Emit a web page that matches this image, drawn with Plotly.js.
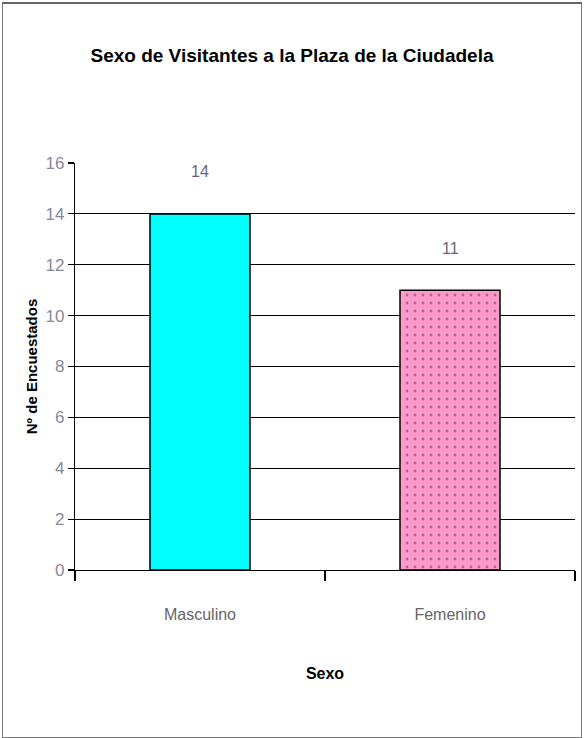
<!DOCTYPE html>
<html><head><meta charset="utf-8">
<script src="https://cdn.plot.ly/plotly-3.0.1.min.js"></script>
<style>
html,body{margin:0;padding:0;background:#fff;}
#frame{position:absolute;left:2px;top:2px;width:578px;height:733px;border:1px solid #777;border-top:2px solid #666;pointer-events:none;}
#chart{width:584px;height:738px;}
</style></head>
<body>
<div id="chart"></div>
<div id="frame"></div>
<script>
const categories = ["Masculino", "Femenino"];
const values = [14, 11];
const barColors = ["#00FFFF", "#FF99CC"];
const yTicks = [0, 2, 4, 6, 8, 10, 12, 14, 16];

const font = "Liberation Sans Narrow, Arial Narrow, Liberation Sans, Arial, sans-serif";

const trace = {
  type: "bar",
  x: categories,
  y: values,
  marker: {
    color: barColors,
    line: {color: "#000", width: 1.5},
    pattern: {shape: ["", "."], fillmode: "overlay", fgcolor: "#e7a0b4", size: 8, solidity: 0.1}
  },
  width: 0.4,
  hoverinfo: "x+y"
};

const annotations = categories.map((c, i) => ({
  x: c, y: values[i], xref: "x", yref: "y",
  text: String(values[i]), showarrow: false, yshift: 42,
  font: {family: font, size: 16, color: "#667"}
}));

const layout = {
  width: 584, height: 738,
  margin: {l: 75, r: 9, t: 163, b: 168},
  paper_bgcolor: "#fff", plot_bgcolor: "#fff",
  showlegend: false,
  title: {text: "<b>Sexo de Visitantes a la Plaza de la Ciudadela</b>",
    font: {family: font, size: 19, color: "#000"}, x: 0.5, xanchor: "center", y: 0.925, yanchor: "middle"},
  xaxis: {
    type: "category", tickson: "boundaries", ticks: "outside", ticklen: 10, tickwidth: 1.2, tickcolor: "#000",
    showline: true, linecolor: "#000", linewidth: 1.2, showgrid: false, range: [-0.5, 1.5],
    ticklabelstandoff: 30,
    tickfont: {family: font, size: 16, color: "#666"},
    title: {text: "<b>Sexo</b>", font: {family: font, size: 16, color: "#000"}, standoff: 45}
  },
  yaxis: {
    range: [0, 16], tickvals: yTicks, ticktext: yTicks.map(String), ticks: "outside", ticklen: 6,
    tickwidth: 1.2, tickcolor: "#000",
    showline: true, linecolor: "#000", linewidth: 1.2, showgrid: true, gridcolor: "#000", gridwidth: 1,
    zeroline: false,
    tickfont: {family: font, size: 17, color: "#889"},
    title: {text: "<b>Nº de Encuestados</b>", font: {family: font, size: 15, color: "#000"}, standoff: 4}
  },
  annotations: annotations
};

Plotly.newPlot("chart", [trace], layout, {displayModeBar: false, staticPlot: true});
</script>
</body></html>
